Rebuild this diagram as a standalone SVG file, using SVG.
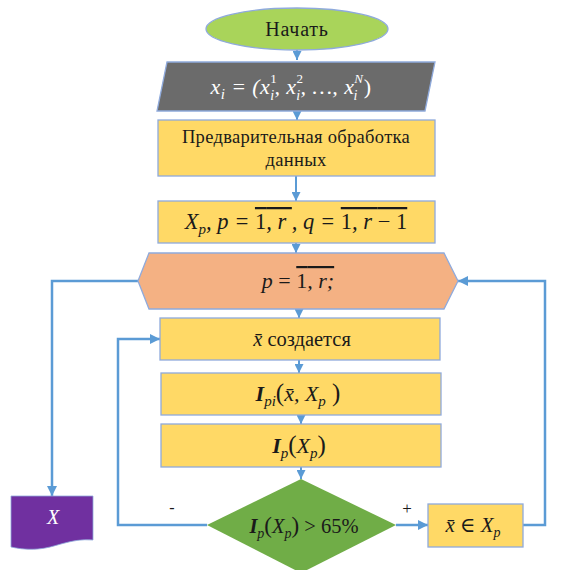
<svg xmlns="http://www.w3.org/2000/svg" width="561" height="570" viewBox="0 0 561 570">
<defs>
<style>
.box{fill:#FFD966;stroke:#8FAADC;stroke-width:1.3}
.ln{fill:none;stroke:#5B9BD5;stroke-width:2.5}
.sh{fill:none;stroke:#5B9BD5;stroke-width:2}
text{font-family:'Liberation Serif','DejaVu Serif',serif;fill:#1a1a1a;text-anchor:middle}
.m{font-style:italic}
.b{font-weight:bold}
.ov{text-decoration:overline}
.w{fill:#ffffff}
</style>
<marker id="ah" viewBox="0 0 10 10" refX="10" refY="5" markerWidth="4" markerHeight="4" orient="auto" markerUnits="strokeWidth"><path d="M0,0L10,5L0,10z" fill="#5B9BD5"/></marker>
<marker id="as" viewBox="0 0 10 10" refX="10" refY="5" markerWidth="4.5" markerHeight="4.5" orient="auto" markerUnits="strokeWidth"><path d="M0,0L10,5L0,10z" fill="#5B9BD5"/></marker>
</defs>

<g id="connectors">
<path class="sh" d="M297,50V60" marker-end="url(#as)"/>
<path class="sh" d="M297,111V120" marker-end="url(#as)"/>
<path class="sh" d="M296,176V201" marker-end="url(#as)"/>
<path class="sh" d="M296,243V253" marker-end="url(#as)"/>
<path class="sh" d="M299,309V318" marker-end="url(#as)"/>
<path class="sh" d="M299,360V373" marker-end="url(#as)"/>
<path class="sh" d="M301,415V424" marker-end="url(#as)"/>
<path class="sh" d="M301,467V479" marker-end="url(#as)"/>
<path class="ln" d="M138,281H52V496" marker-end="url(#ah)"/>
<path class="ln" d="M207,525H118V339H160" marker-end="url(#ah)"/>
<path class="ln" d="M396,525H428" marker-end="url(#ah)"/>
<path class="ln" d="M523,525H545V281H458" marker-end="url(#ah)"/>
<text x="172" y="513" font-size="16">-</text>
<text x="407" y="514" font-size="17">+</text>
</g>

<g id="start">
<ellipse cx="297" cy="29" rx="91" ry="21" fill="#A9D45A" stroke="#8FAADC" stroke-width="1.3"/>
<text x="297" y="36" font-size="20" letter-spacing="0.8">Начать</text>
</g>

<g id="input">
<polygon points="167,62 435,62 425,111 157,111" fill="#6B6B6B" stroke="#8FAADC" stroke-width="1.3"/>
<text x="291" y="94" class="m w" font-size="22" letter-spacing="0.4">x<tspan font-size="15" dy="5">i</tspan><tspan dy="-5"> = (x</tspan><tspan font-size="13" dy="-11" font-style="normal">1</tspan><tspan font-size="14" dx="-7" dy="17">i</tspan><tspan dy="-6">, x</tspan><tspan font-size="13" dy="-11" font-style="normal">2</tspan><tspan font-size="14" dx="-7" dy="17">i</tspan><tspan dy="-6">, …, x</tspan><tspan font-size="13" dy="-11">N</tspan><tspan font-size="14" dx="-10" dy="17">i</tspan><tspan dx="6" dy="-6" font-style="normal">)</tspan></text>
</g>

<g id="preprocess">
<rect class="box" x="158" y="120" width="277" height="56"/>
<text x="296" y="143" font-size="18.5" letter-spacing="0.3">Предварительная обработка</text>
<text x="296" y="166" font-size="18.5" letter-spacing="0.3">данных</text>
</g>

<g id="sets">
<rect class="box" x="158" y="201" width="277" height="42"/>
<text x="296" y="229" class="m" font-size="22.5">X<tspan font-size="15" dy="5">p</tspan><tspan dy="-5">, p = </tspan><tspan class="ov" font-style="normal">1</tspan><tspan class="ov">, r </tspan><tspan>, q = </tspan><tspan class="ov" font-style="normal">1</tspan><tspan class="ov">, r </tspan><tspan class="ov" font-style="normal">− 1</tspan></text>
</g>

<g id="loop">
<polygon points="138,281 149,253 444,253 458,281 444,309 149,309" fill="#F4B183" stroke="#8FAADC" stroke-width="1.3"/>
<text x="298" y="288" class="m" font-size="22">p <tspan font-style="normal">= </tspan><tspan class="ov" font-style="normal">1</tspan><tspan class="ov">, r;</tspan></text>
</g>

<g id="create">
<rect class="box" x="160" y="318" width="280" height="42"/>
<text x="302" y="346" font-size="20.5"><tspan font-style="italic">x̄</tspan> создается</text>
</g>

<g id="ipi">
<rect class="box" x="161" y="373" width="280" height="42"/>
<text x="298" y="401" class="m" font-size="22"><tspan class="b">I</tspan><tspan font-size="15" dy="5">pi</tspan><tspan dy="-5" font-style="normal" font-size="25">(</tspan>x̄, X<tspan font-size="15" dy="5">p</tspan><tspan dy="-5" font-style="normal" font-size="25"> )</tspan></text>
</g>

<g id="ip">
<rect class="box" x="161" y="424" width="280" height="43"/>
<text x="299" y="453" class="m" font-size="22"><tspan class="b">I</tspan><tspan font-size="15" dy="5">p</tspan><tspan dy="-5" font-style="normal" font-size="25">(</tspan>X<tspan font-size="15" dy="5">p</tspan><tspan dy="-5" font-style="normal" font-size="25">)</tspan></text>
</g>

<g id="decision">
<polygon points="301,479 396,525 301,573 207,525" fill="#70AD47"/>
<text x="304" y="533" class="m" font-size="20.5"><tspan class="b">I</tspan><tspan font-size="14" dy="5">p</tspan><tspan dy="-5" font-style="normal" font-size="23">(</tspan>X<tspan font-size="14" dy="5">p</tspan><tspan dy="-5" font-style="normal" font-size="23">)</tspan><tspan font-style="normal"> &gt; 65%</tspan></text>
</g>

<g id="member">
<rect class="box" x="428" y="504" width="95" height="43"/>
<text x="473" y="532" class="m" font-size="21">x̄ <tspan font-style="normal">∈</tspan> X<tspan font-size="14" dy="5">p</tspan></text>
</g>

<g id="result">
<path d="M11,496H93V540C70,538 55,548 38,549C25,550 16,548 11,547Z" fill="#7030A0" stroke="#8FAADC" stroke-width="0.8"/>
<text x="53" y="524" class="m w" font-size="20">X</text>
</g>
</svg>
